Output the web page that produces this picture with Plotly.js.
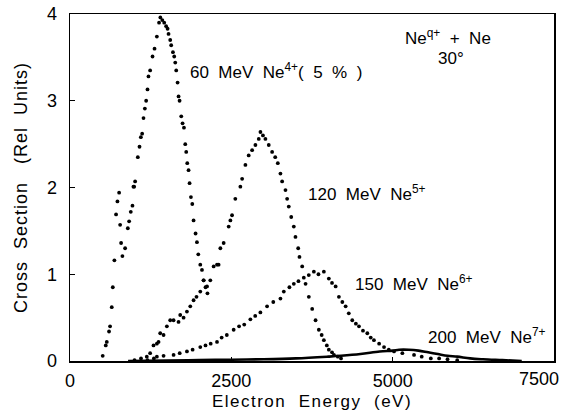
<!DOCTYPE html>
<html>
<head>
<meta charset="utf-8">
<script src="https://cdn.plot.ly/plotly-3.0.1.min.js"></script>
<style>
html,body{margin:0;padding:0;background:#fff;}
#chart{width:562px;height:412px;}
#chart .xtitle{letter-spacing:1.5px;}
#chart .ytitle{letter-spacing:1px;}
</style>
</head>
<body>
<div id="chart"></div>
<script>
// 60 MeV Ne4+ (5 %)
const x60 = [507,554,570,605,621,647,663,688,714,735,761,777,792,812,854,896,916,942,968,983,994,1009,1051,1077,1098,1118,1139,1160,1180,1201,1216,1242,1279,1310,1346,1380,1400,1430,1460,1490,1512,1527,1553,1568,1595,1615,1631,1646,1667,1682,1698,1724,1744,1766,1786,1801,1817,1837,1853,1874,1895,1915,1946,1967,1988,2019,2045,2070,2100,2130];
const y60 = [0.06,0.18,0.22,0.34,0.40,0.62,0.85,1.16,1.69,1.84,1.94,1.57,1.36,1.21,1.30,1.53,1.61,1.72,1.79,2.01,2.01,2.07,2.35,2.47,2.58,2.62,2.80,2.91,3.00,3.13,3.28,3.35,3.51,3.60,3.74,3.90,3.96,3.93,3.90,3.86,3.83,3.77,3.70,3.64,3.56,3.51,3.44,3.35,3.21,3.05,3.00,2.82,2.74,2.69,2.50,2.41,2.28,2.20,2.05,1.89,1.81,1.62,1.47,1.37,1.23,1.11,1.05,0.93,0.85,0.78];
// 120 MeV Ne5+
const x120 = [1000,1100,1190,1242,1294,1346,1372,1398,1450,1501,1553,1605,1682,1708,1760,1812,1864,1915,1960,2019,2071,2123,2174,2226,2278,2303,2330,2381,2459,2485,2511,2562,2640,2667,2718,2769,2822,2873,2925,2951,2990,3028,3080,3132,3180,3220,3261,3287,3339,3365,3390,3428,3468,3494,3536,3556,3598,3650,3701,3753,3805,3856,3900,3934,3980,4011,4060,4090,4150,4200];
const y120 = [0.01,0.03,0.05,0.09,0.18,0.20,0.22,0.32,0.30,0.40,0.47,0.47,0.45,0.53,0.50,0.57,0.63,0.70,0.74,0.80,0.93,0.86,0.93,1.09,1.11,1.11,1.30,1.36,1.55,1.62,1.68,1.87,2.01,2.10,2.26,2.37,2.43,2.49,2.56,2.64,2.60,2.56,2.49,2.41,2.35,2.28,2.16,2.07,1.97,1.87,1.78,1.66,1.55,1.43,1.30,1.20,1.09,0.89,0.74,0.60,0.47,0.36,0.30,0.24,0.18,0.13,0.10,0.07,0.05,0.03];
// 150 MeV Ne6+
const x150 = [1200,1300,1346,1450,1605,1700,1812,1900,2019,2100,2180,2278,2350,2430,2536,2620,2700,2795,2870,2950,3054,3150,3261,3313,3400,3468,3540,3623,3700,3779,3850,3934,4011,4060,4116,4167,4220,4271,4320,4374,4430,4478,4540,4607,4660,4710,4790,4866,4940,5021,5150,5331,5450,5591,5720,5850,6000];
const y150 = [0.01,0.03,0.05,0.06,0.07,0.09,0.11,0.13,0.16,0.18,0.20,0.22,0.27,0.30,0.36,0.40,0.42,0.48,0.52,0.56,0.63,0.68,0.72,0.80,0.85,0.89,0.92,0.96,0.99,1.03,1.00,1.03,0.95,0.90,0.86,0.74,0.68,0.63,0.55,0.47,0.43,0.40,0.35,0.32,0.27,0.24,0.20,0.16,0.13,0.11,0.09,0.07,0.05,0.03,0.03,0.02,0.01];
// 200 MeV Ne7+
const x200 = [900,1500,2000,2500,3000,3500,4000,4200,4500,4800,5000,5100,5250,5400,5550,5700,5850,6000,6200,6400,6700,7000];
const y200 = [0.0,0.005,0.01,0.015,0.02,0.03,0.05,0.06,0.08,0.11,0.12,0.13,0.13,0.12,0.10,0.08,0.06,0.05,0.03,0.02,0.01,0.0];

const xTicks = [0,2500,5000,7500];
const xTickText = ['0','2500','5000',''];   // last label drawn as annotation so it is not clipped
const yTicks = [0,1,2,3,4];

const F = "Liberation Sans, Arial, sans-serif";
const dot = {color:'#000', size:3.8};
const traces = [
  {x:x60, y:y60, mode:'markers', type:'scatter', marker:dot},
  {x:x120, y:y120, mode:'markers', type:'scatter', marker:dot},
  {x:x150, y:y150, mode:'markers', type:'scatter', marker:dot},
  {x:x200, y:y200, mode:'lines', type:'scatter', line:{color:'#000', width:2.6, shape:'spline'}}
];

const ann = (x,y,t,xa,sz)=>({x:x,y:y,xref:'x',yref:'y',text:t,showarrow:false,xanchor:xa||'left',yanchor:'middle',font:{family:F,size:sz||17,color:'#000'}});

const layout = {
  width:562, height:412,
  margin:{l:70, r:8, t:14, b:51},
  paper_bgcolor:'#fff', plot_bgcolor:'#fff',
  showlegend:false,
  font:{family:F, size:16, color:'#000'},
  xaxis:{range:[0,7500], tickvals:xTicks, ticktext:xTickText, ticks:'inside', ticklen:4, tickcolor:'#000',
    showline:true, mirror:true, linecolor:'#000', linewidth:1.5, showgrid:false, zeroline:false,
    ticklabelstandoff:3, tickfont:{family:F,size:18,color:'#000'},
    title:{text:'Electron  Energy  (eV)', font:{family:F,size:17,color:'#000'}, standoff:5}},
  yaxis:{range:[0,4], tickvals:yTicks, ticktext:yTicks.map(String), ticks:'inside', ticklen:5, tickcolor:'#000',
    showline:true, mirror:true, linecolor:'#000', linewidth:1.5, showgrid:false, zeroline:false,
    ticklabelstandoff:8, tickfont:{family:F,size:18,color:'#000'},
    title:{text:'Cross  Section   (Rel  Units)', font:{family:F,size:18,color:'#000'}, standoff:14}},
  annotations:[
    {x:7500, y:0, xref:'x', yref:'y', text:'7500', showarrow:false, xanchor:'right', yanchor:'top', xshift:7, yshift:-6,
      font:{family:F,size:18,color:'#000'}},
    ann(1833,3.34,'60  MeV  Ne<sup>4+</sup>(  5  %  )'),
    ann(5850,3.74,'Ne<sup>q+</sup>  +  Ne','center'),
    ann(5900,3.49,'30°','center'),
    ann(3650,1.94,'120  MeV  Ne<sup>5+</sup>'),
    ann(4380,0.90,'150  MeV  Ne<sup>6+</sup>'),
    ann(5513,0.29,'200  MeV  Ne<sup>7+</sup>')
  ]
};
Plotly.newPlot('chart', traces, layout, {displayModeBar:false, staticPlot:true});
</script>
</body>
</html>
